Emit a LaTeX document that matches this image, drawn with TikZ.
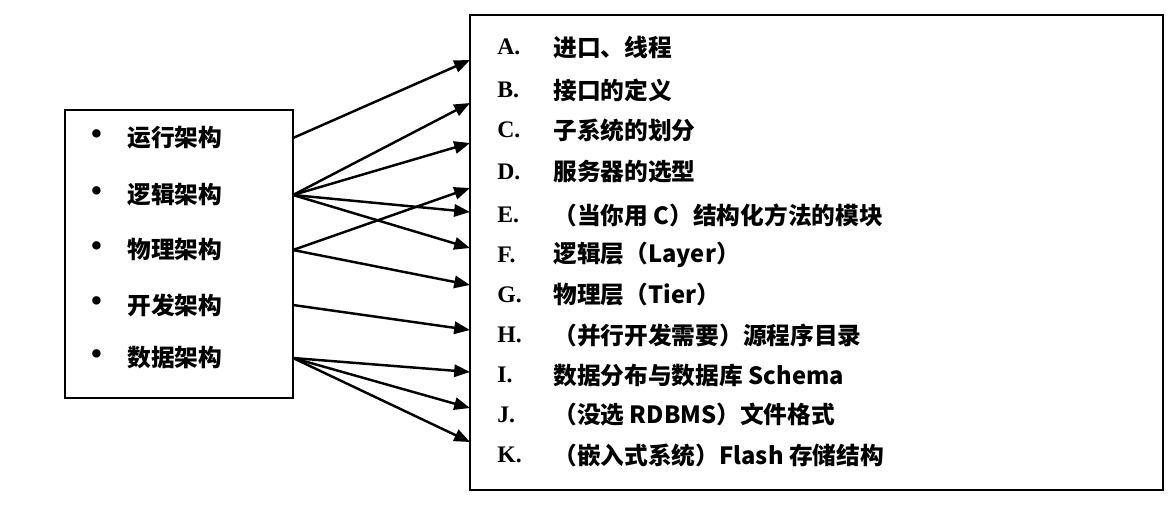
\documentclass[tikz,border=0pt]{standalone}
\usepackage{fontspec}
\setmainfont{Liberation Serif}
\newfontfamily\cjk{Noto Sans CJK SC}
\usetikzlibrary{arrows.meta}
\tikzset{font={\fontsize{13.5}{16}\selectfont\bfseries}}
\tikzstyle{item} = [anchor=west, inner sep=0pt]
\tikzstyle{link} = [line width=1.4pt, -{Triangle[length=9pt,width=7pt]}]

\begin{document}
\begin{tikzpicture}[x=0.02cm, y=-0.02cm]
  \useasboundingbox (0,0) rectangle (1173,518);
  % boxes
  \draw[line width=1pt] (65,110) rectangle (293,398);
  \draw[line width=1.3pt] (470,15) rectangle (1163,490);

  % left items
  \foreach \n/\t/\y in {run/运行架构/138, logic/逻辑架构/195, phys/物理架构/250, dev/开发架构/305, data/数据架构/358} {
    \node[item, font={\fontsize{20}{20}\selectfont}] at (90,\y) {\textbullet};
    \node[item] at (127,\y) {\cjk \t};
    \coordinate (\n) at (293,\y);
  }

  % right items
  \foreach \l/\t/\y in {A/进口、线程/47, B/接口的定义/90, C/子系统的划分/130, D/服务器的选型/172,
      E/（当你用 C）结构化方法的模块/215, F/逻辑层（Layer）/255, G/物理层（Tier）/295,
      H/（并行开发需要）源程序目录/335, I/数据分布与数据库 Schema/375,
      J/（没选 RDBMS）文件格式/415, K/（嵌入式系统）Flash 存储结构/455} {
    \node[item] at (497,\y) {\l.};
    \node[item] at (553,\y) {\cjk \t};
  }

  % arrow ends
  \foreach \n/\y in {a/60, b/103, c/143, d/188, e/212, f/248, g/285, h/330, i/372, j/408, k/442}
    \coordinate (\n) at (470,\y);

  \draw[link] (run) -- (a);
  \draw[link] (logic) -- (b);
  \draw[link] (logic) -- (c);
  \draw[link] (logic) -- (e);
  \draw[link] (logic) -- (f);
  \draw[link] (phys) -- (d);
  \draw[link] (phys) -- (g);
  \draw[link] (dev) -- (h);
  \draw[link] (data) -- (i);
  \draw[link] (data) -- (j);
  \draw[link] (data) -- (k);
\end{tikzpicture}
\end{document}
